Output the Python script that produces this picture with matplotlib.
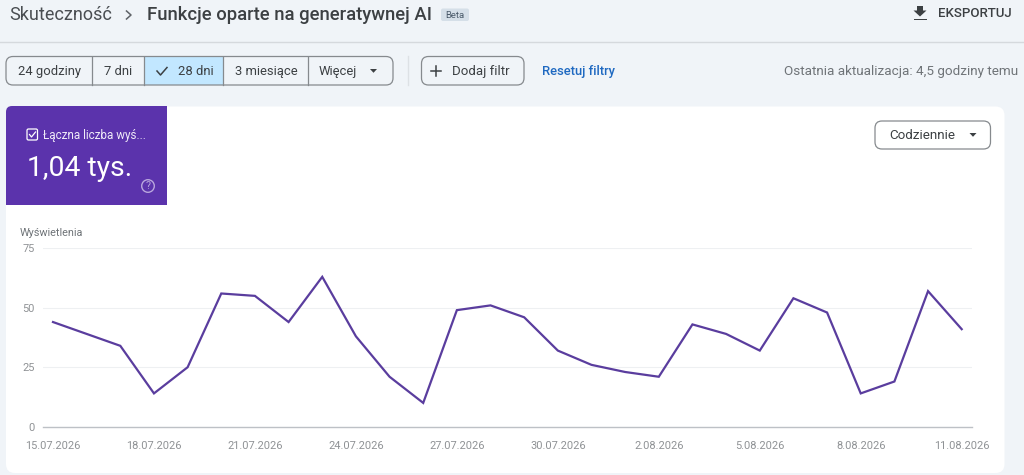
import matplotlib
matplotlib.use('Agg')
from matplotlib import pyplot as plt
from matplotlib.patches import FancyBboxPatch, Rectangle, Polygon, Circle

plt.rcParams['font.family'] = ['Roboto', 'DejaVu Sans']

# --- chart data
dates = ['15.07.2026', '16.07.2026', '17.07.2026', '18.07.2026', '19.07.2026', '20.07.2026', '21.07.2026',
         '22.07.2026', '23.07.2026', '24.07.2026', '25.07.2026', '26.07.2026', '27.07.2026', '28.07.2026',
         '29.07.2026', '30.07.2026', '31.07.2026', '1.08.2026', '2.08.2026', '3.08.2026', '4.08.2026',
         '5.08.2026', '6.08.2026', '7.08.2026', '8.08.2026', '9.08.2026', '10.08.2026', '11.08.2026']
impressions = [44, 39, 34, 14, 25, 56, 55, 44, 63, 38, 21, 10, 49, 51,
               46, 32, 26, 23, 21, 43, 39, 32, 54, 48, 14, 19, 57, 41]
y_ticks = [0, 25, 50, 75]
tick_every = 3

# --- colors
BG = '#f0f4f8'
BORDER = '#868a8e'
DARK = '#3c4043'
GREY = '#8f9295'
PURPLE = '#5b33ac'
LINE = '#5a3d9e'

W, H = 1024, 475
fig = plt.figure(figsize=(W / 100, H / 100), dpi=100, facecolor=BG)

# overlay in pixel coordinates for the page around the chart
ui = fig.add_axes([0, 0, 1, 1])
ui.set_xlim(0, W)
ui.set_ylim(H, 0)
ui.axis('off')


def rounded(x0, y0, x1, y1, r, fc='none', ec='none', lw=1.0, z=1):
    p = FancyBboxPatch((x0 + r, y0 + r), x1 - x0 - 2 * r, y1 - y0 - 2 * r,
                       boxstyle=f'round,pad={r},rounding_size={r}', fc=fc, ec=ec, lw=lw, zorder=z)
    ui.add_patch(p)


def label(x, y, s, size, color=DARK, ha='left', weight='normal'):
    ui.text(x, y, s, fontsize=size, color=color, ha=ha, va='center', weight=weight, zorder=5)


def caret(cx, cy, color=DARK):
    ui.add_patch(Polygon([(cx - 3.5, cy - 2), (cx + 3.5, cy - 2), (cx, cy + 1.8)], fc=color, ec='none', zorder=5))


# header
label(9, 15, 'Skuteczność', 13.0, '#4a4e52')
ui.plot([126.5, 131, 126.5], [11, 15, 19], color='#5f6368', lw=1.1)
label(147, 15, 'Funkcje oparte na generatywnej AI', 13.3, DARK, weight='medium')
rounded(441, 8.5, 469, 21, 2, fc='#d5dfe8', z=2)
label(455, 15, 'Beta', 6.8, '#4a5a6a', ha='center')
ui.plot([0, W], [41.5, 41.5], color='#d5d9dd', lw=1)

# export button
ui.add_patch(Polygon([(917, 6), (923, 6), (923, 10.5), (926.5, 10.5), (920, 16.5), (913.5, 10.5), (917, 10.5)],
                     fc=DARK, ec='none'))
ui.add_patch(Rectangle((913.5, 18.5), 13, 1.6, fc=DARK, ec='none'))
label(938, 13.5, 'EKSPORTUJ', 9.5, DARK, weight='medium')

# date range buttons
ui.add_patch(Rectangle((144, 56.5), 79, 28.5, fc='#c2e7ff', ec='none', zorder=1))
rounded(6, 56.5, 393, 85, 7, ec=BORDER, lw=0.9, z=2)
for sx in [92, 143.5, 223, 308]:
    ui.plot([sx, sx], [56.5, 85], color=BORDER, lw=0.9, zorder=2)
label(49, 71.5, '24 godziny', 9.4, ha='center')
label(118, 71.5, '7 dni', 9.4, ha='center')
ui.plot([157, 160.5, 167], [71, 75, 67.5], color=DARK, lw=1.1, zorder=5)
label(178, 71.5, '28 dni', 9.4)
label(266, 71.5, '3 miesiące', 9.4, ha='center')
label(319, 71.5, 'Więcej', 9.4)
caret(373.5, 71)

ui.plot([407.5, 407.5], [56, 85], color='#dde1e5', lw=1)
rounded(421.5, 56.5, 524, 85, 7, ec=BORDER, lw=0.9, z=2)
ui.plot([431, 441], [71, 71], color=DARK, lw=1.1)
ui.plot([436, 436], [66, 76], color=DARK, lw=1.1)
label(452, 71.5, 'Dodaj filtr', 9.5)
label(541.5, 71.5, 'Resetuj filtry', 9.4, '#1f69c1', weight='medium')
label(1018, 71.5, 'Ostatnia aktualizacja: 4,5 godziny temu', 9.7, '#6f7478', ha='right')

# white card and the metric tile (only the top left corner is rounded)
rounded(6, 106.5, 1004.5, 473, 9, fc='white', z=0.5)
rounded(6, 106, 60, 160, 6, fc=PURPLE, z=1)
ui.add_patch(Rectangle((30, 106), 136.5, 99, fc=PURPLE, ec='none', zorder=1))
ui.add_patch(Rectangle((6, 130), 60, 75, fc=PURPLE, ec='none', zorder=1))
rounded(27, 129, 37.5, 140, 1.5, ec='white', lw=0.9, z=3)
ui.plot([29.5, 31.5, 35.5], [134.5, 137, 132], color='white', lw=0.9, zorder=4)
label(43, 135, 'Łączna liczba wyś...', 8.4, '#f0ebf8')
label(27, 168, '1,04 tys.', 20.4, 'white')
ui.add_patch(Circle((148, 186), 6.3, fc='none', ec='#b9a6dd', lw=1, zorder=4))
label(148, 186, '?', 7.5, '#b9a6dd', ha='center')

# granularity select
rounded(875, 121, 990.5, 149, 7, fc='white', ec=BORDER, lw=0.9, z=2)
label(889.5, 135.5, 'Codziennie', 9.6)
caret(973, 135)

label(20, 232.5, 'Wyświetlenia', 7.8, '#6f7478')

# --- the line chart: plot area runs from x=43 to x=972, y=248.3 to y=426.7 px
px_per_day = (961.7 - 53) / (len(dates) - 1)
ax = fig.add_axes([43 / W, 1 - 426.7 / H, (972 - 43) / W, (426.7 - 248.3) / H])
ax.patch.set_alpha(0)
ax.plot(range(len(dates)), impressions, color=LINE, lw=1.6, solid_joinstyle='miter')
ax.set_xlim(-(53 - 43) / px_per_day, len(dates) - 1 + (972 - 961.7) / px_per_day)
ax.set_ylim(0, 75)
ax.set_yticks(y_ticks)
ax.set_xticks(range(0, len(dates), tick_every))
ax.set_xticklabels(dates[::tick_every])
ax.tick_params(axis='both', length=0, labelsize=7.9, labelcolor=GREY)
ax.tick_params(axis='x', pad=10.5)
ax.tick_params(axis='y', pad=6)
ax.grid(axis='y', color='#eef0f2', lw=0.8)
ax.set_axisbelow(True)
for side in ['top', 'right', 'left']:
    ax.spines[side].set_visible(False)
ax.spines['bottom'].set_color('#bdc1c6')
ax.spines['bottom'].set_linewidth(1)

fig.savefig('out.png', dpi=100, facecolor=BG)
